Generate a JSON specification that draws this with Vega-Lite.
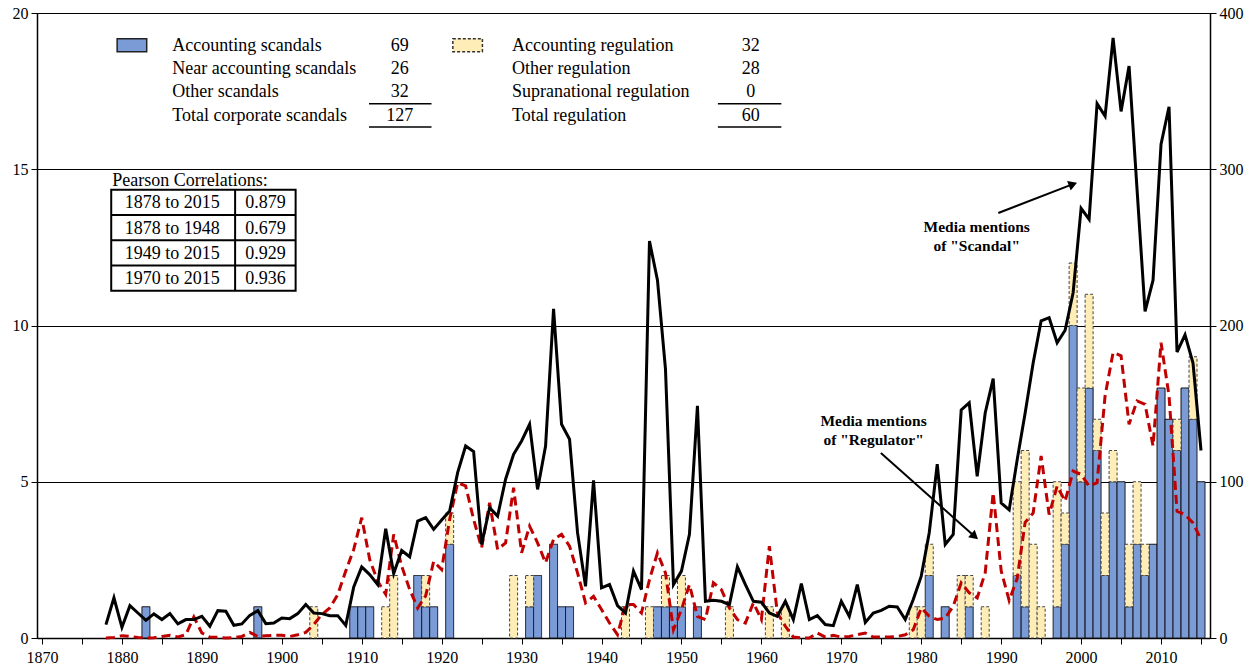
{
  "$schema": "https://vega.github.io/schema/vega-lite/v6.json",
  "width": 1173,
  "height": 625,
  "autosize": {"type": "none"},
  "padding": {"left": 37, "top": 13, "right": 49, "bottom": 33},
  "background": "white",
  "config": {
    "view": {"stroke": "black", "strokeWidth": 1},
    "axis": {"labelFont": "Liberation Serif", "labelFontSize": 16, "labelColor": "black", "domainColor": "black", "tickColor": "black", "domainWidth": 1.5, "tickWidth": 1}
  },
  "datasets": {
    "bars": [
      {"year":1883,"type":"Scandals","count":1},{"year":1897,"type":"Scandals","count":1},{"year":1909,"type":"Scandals","count":1},{"year":1910,"type":"Scandals","count":1},{"year":1911,"type":"Scandals","count":1},{"year":1917,"type":"Scandals","count":2},{"year":1918,"type":"Scandals","count":1},{"year":1919,"type":"Scandals","count":1},{"year":1921,"type":"Scandals","count":3},{"year":1931,"type":"Scandals","count":1},{"year":1932,"type":"Scandals","count":2},{"year":1934,"type":"Scandals","count":3},{"year":1935,"type":"Scandals","count":1},{"year":1936,"type":"Scandals","count":1},{"year":1947,"type":"Scandals","count":1},{"year":1948,"type":"Scandals","count":1},{"year":1949,"type":"Scandals","count":1},{"year":1950,"type":"Scandals","count":1},{"year":1952,"type":"Scandals","count":1},{"year":1981,"type":"Scandals","count":2},{"year":1983,"type":"Scandals","count":1},{"year":1986,"type":"Scandals","count":1},{"year":1992,"type":"Scandals","count":2},{"year":1993,"type":"Scandals","count":1},{"year":1997,"type":"Scandals","count":1},{"year":1998,"type":"Scandals","count":3},{"year":1999,"type":"Scandals","count":10},{"year":2000,"type":"Scandals","count":5},{"year":2001,"type":"Scandals","count":8},{"year":2002,"type":"Scandals","count":6},{"year":2003,"type":"Scandals","count":2},{"year":2004,"type":"Scandals","count":5},{"year":2005,"type":"Scandals","count":5},{"year":2006,"type":"Scandals","count":1},{"year":2007,"type":"Scandals","count":3},{"year":2008,"type":"Scandals","count":2},{"year":2009,"type":"Scandals","count":3},{"year":2010,"type":"Scandals","count":8},{"year":2011,"type":"Scandals","count":7},{"year":2012,"type":"Scandals","count":6},{"year":2013,"type":"Scandals","count":8},{"year":2014,"type":"Scandals","count":7},{"year":2015,"type":"Scandals","count":5},
      {"year":1904,"type":"Regulation","count":1},{"year":1913,"type":"Regulation","count":1},{"year":1914,"type":"Regulation","count":2},{"year":1918,"type":"Regulation","count":1},{"year":1921,"type":"Regulation","count":1},{"year":1929,"type":"Regulation","count":2},{"year":1931,"type":"Regulation","count":1},{"year":1943,"type":"Regulation","count":1},{"year":1946,"type":"Regulation","count":1},{"year":1948,"type":"Regulation","count":1},{"year":1950,"type":"Regulation","count":1},{"year":1956,"type":"Regulation","count":1},{"year":1961,"type":"Regulation","count":1},{"year":1963,"type":"Regulation","count":1},{"year":1979,"type":"Regulation","count":1},{"year":1980,"type":"Regulation","count":1},{"year":1981,"type":"Regulation","count":1},{"year":1985,"type":"Regulation","count":2},{"year":1986,"type":"Regulation","count":1},{"year":1988,"type":"Regulation","count":1},{"year":1992,"type":"Regulation","count":3},{"year":1993,"type":"Regulation","count":5},{"year":1994,"type":"Regulation","count":3},{"year":1995,"type":"Regulation","count":1},{"year":1997,"type":"Regulation","count":4},{"year":1998,"type":"Regulation","count":1},{"year":1999,"type":"Regulation","count":2},{"year":2000,"type":"Regulation","count":3},{"year":2001,"type":"Regulation","count":3},{"year":2002,"type":"Regulation","count":1},{"year":2003,"type":"Regulation","count":2},{"year":2004,"type":"Regulation","count":1},{"year":2006,"type":"Regulation","count":2},{"year":2007,"type":"Regulation","count":2},{"year":2008,"type":"Regulation","count":1},{"year":2012,"type":"Regulation","count":1},{"year":2014,"type":"Regulation","count":2}
    ],
    "scandal": [
      {"year":1878,"mentions":8.6},{"year":1879,"mentions":25.7},{"year":1880,"mentions":6.8},{"year":1881,"mentions":20.7},{"year":1882,"mentions":16},{"year":1883,"mentions":11.3},{"year":1884,"mentions":15.4},{"year":1885,"mentions":11.8},{"year":1886,"mentions":15.6},{"year":1887,"mentions":9},{"year":1888,"mentions":11.8},{"year":1889,"mentions":11.8},{"year":1890,"mentions":13.9},{"year":1891,"mentions":7.5},{"year":1892,"mentions":17.5},{"year":1893,"mentions":17.1},{"year":1894,"mentions":8.1},{"year":1895,"mentions":9},{"year":1896,"mentions":14.5},{"year":1897,"mentions":17.5},{"year":1898,"mentions":9.2},{"year":1899,"mentions":9.6},{"year":1900,"mentions":12.8},{"year":1901,"mentions":12.4},{"year":1902,"mentions":15.6},{"year":1903,"mentions":21.4},{"year":1904,"mentions":16},{"year":1905,"mentions":15.6},{"year":1906,"mentions":14.3},{"year":1907,"mentions":14.3},{"year":1908,"mentions":8.1},{"year":1909,"mentions":32.7},{"year":1910,"mentions":45.5},{"year":1911,"mentions":40.6},{"year":1912,"mentions":34.2},{"year":1913,"mentions":69.9},{"year":1914,"mentions":41.3},{"year":1915,"mentions":56},{"year":1916,"mentions":52},{"year":1917,"mentions":74.8},{"year":1918,"mentions":77},{"year":1919,"mentions":69.5},{"year":1920,"mentions":75.5},{"year":1921,"mentions":81.2},{"year":1922,"mentions":105.8},{"year":1923,"mentions":122.9},{"year":1924,"mentions":119.3},{"year":1925,"mentions":59.9},{"year":1926,"mentions":83.4},{"year":1927,"mentions":78},{"year":1928,"mentions":101.6},{"year":1929,"mentions":117.6},{"year":1930,"mentions":126.1},{"year":1931,"mentions":136.8},{"year":1932,"mentions":95.1},{"year":1933,"mentions":122.9},{"year":1934,"mentions":210.6},{"year":1935,"mentions":136.8},{"year":1936,"mentions":127.2},{"year":1937,"mentions":67.4},{"year":1938,"mentions":33.1},{"year":1939,"mentions":100.9},{"year":1940,"mentions":32.1},{"year":1941,"mentions":34.2},{"year":1942,"mentions":20.7},{"year":1943,"mentions":16},{"year":1944,"mentions":42.8},{"year":1945,"mentions":31},{"year":1946,"mentions":254},{"year":1947,"mentions":229},{"year":1948,"mentions":172.3},{"year":1949,"mentions":34.2},{"year":1950,"mentions":42.8},{"year":1951,"mentions":66.3},{"year":1952,"mentions":148.6},{"year":1953,"mentions":23.5},{"year":1954,"mentions":24.2},{"year":1955,"mentions":23.5},{"year":1956,"mentions":21.4},{"year":1957,"mentions":45.5},{"year":1958,"mentions":34.2},{"year":1959,"mentions":23.5},{"year":1960,"mentions":22.9},{"year":1961,"mentions":16},{"year":1962,"mentions":13.9},{"year":1963,"mentions":23.5},{"year":1964,"mentions":11.8},{"year":1965,"mentions":34.9},{"year":1966,"mentions":11.8},{"year":1967,"mentions":14.3},{"year":1968,"mentions":8.6},{"year":1969,"mentions":7.9},{"year":1970,"mentions":23.5},{"year":1971,"mentions":13.9},{"year":1972,"mentions":34.2},{"year":1973,"mentions":10},{"year":1974,"mentions":16},{"year":1975,"mentions":17.7},{"year":1976,"mentions":20.3},{"year":1977,"mentions":19.9},{"year":1978,"mentions":11.8},{"year":1979,"mentions":24.6},{"year":1980,"mentions":39.6},{"year":1981,"mentions":67.4},{"year":1982,"mentions":111.2},{"year":1983,"mentions":59.9},{"year":1984,"mentions":66.3},{"year":1985,"mentions":146},{"year":1986,"mentions":150.5},{"year":1987,"mentions":103.5},{"year":1988,"mentions":144},{"year":1989,"mentions":166},{"year":1990,"mentions":86.4},{"year":1991,"mentions":82},{"year":1992,"mentions":114},{"year":1993,"mentions":144},{"year":1994,"mentions":176},{"year":1995,"mentions":203},{"year":1996,"mentions":205},{"year":1997,"mentions":189},{"year":1998,"mentions":197},{"year":1999,"mentions":221},{"year":2000,"mentions":275},{"year":2001,"mentions":268},{"year":2002,"mentions":342},{"year":2003,"mentions":334},{"year":2004,"mentions":384},{"year":2005,"mentions":337},{"year":2006,"mentions":366},{"year":2007,"mentions":287},{"year":2008,"mentions":209},{"year":2009,"mentions":229},{"year":2010,"mentions":316},{"year":2011,"mentions":340},{"year":2012,"mentions":183},{"year":2013,"mentions":194},{"year":2014,"mentions":176},{"year":2015,"mentions":120}
    ],
    "regulator": [
      {"year":1878,"mentions":0},{"year":1879,"mentions":0.4},{"year":1880,"mentions":1.5},{"year":1881,"mentions":1},{"year":1882,"mentions":0.4},{"year":1883,"mentions":0},{"year":1884,"mentions":0.2},{"year":1885,"mentions":1},{"year":1886,"mentions":1.7},{"year":1887,"mentions":0.6},{"year":1888,"mentions":2.1},{"year":1889,"mentions":13.5},{"year":1890,"mentions":3.2},{"year":1891,"mentions":0.6},{"year":1892,"mentions":0.4},{"year":1893,"mentions":0},{"year":1894,"mentions":0.2},{"year":1895,"mentions":1},{"year":1896,"mentions":3.6},{"year":1897,"mentions":1},{"year":1898,"mentions":1.5},{"year":1899,"mentions":1.7},{"year":1900,"mentions":1.7},{"year":1901,"mentions":1},{"year":1902,"mentions":2.1},{"year":1903,"mentions":3.6},{"year":1904,"mentions":8.6},{"year":1905,"mentions":15},{"year":1906,"mentions":19.2},{"year":1907,"mentions":27.8},{"year":1908,"mentions":42.8},{"year":1909,"mentions":56.7},{"year":1910,"mentions":77},{"year":1911,"mentions":50.2},{"year":1912,"mentions":36.3},{"year":1913,"mentions":28},{"year":1914,"mentions":66.3},{"year":1915,"mentions":46},{"year":1916,"mentions":31},{"year":1917,"mentions":19.2},{"year":1918,"mentions":27},{"year":1919,"mentions":49},{"year":1920,"mentions":43.8},{"year":1921,"mentions":75.9},{"year":1922,"mentions":99.4},{"year":1923,"mentions":97.3},{"year":1924,"mentions":75.9},{"year":1925,"mentions":57.7},{"year":1926,"mentions":86.6},{"year":1927,"mentions":56.7},{"year":1928,"mentions":60.9},{"year":1929,"mentions":96.2},{"year":1930,"mentions":54.5},{"year":1931,"mentions":71.6},{"year":1932,"mentions":60.9},{"year":1933,"mentions":48.1},{"year":1934,"mentions":63.1},{"year":1935,"mentions":66.3},{"year":1936,"mentions":58.8},{"year":1937,"mentions":41.7},{"year":1938,"mentions":22.5},{"year":1939,"mentions":26.7},{"year":1940,"mentions":18.2},{"year":1941,"mentions":9.6},{"year":1942,"mentions":2.1},{"year":1943,"mentions":21.4},{"year":1944,"mentions":21.4},{"year":1945,"mentions":16},{"year":1946,"mentions":37.4},{"year":1947,"mentions":54.5},{"year":1948,"mentions":41.7},{"year":1949,"mentions":5.3},{"year":1950,"mentions":18.2},{"year":1951,"mentions":34.2},{"year":1952,"mentions":13.9},{"year":1953,"mentions":11.8},{"year":1954,"mentions":35.3},{"year":1955,"mentions":31},{"year":1956,"mentions":19.2},{"year":1957,"mentions":11.8},{"year":1958,"mentions":9.6},{"year":1959,"mentions":22.5},{"year":1960,"mentions":11.8},{"year":1961,"mentions":58.8},{"year":1962,"mentions":16},{"year":1963,"mentions":7.5},{"year":1964,"mentions":0.6},{"year":1965,"mentions":0},{"year":1966,"mentions":0},{"year":1967,"mentions":3.2},{"year":1968,"mentions":0.6},{"year":1969,"mentions":1.7},{"year":1970,"mentions":0.6},{"year":1971,"mentions":1},{"year":1972,"mentions":2.1},{"year":1973,"mentions":3.2},{"year":1974,"mentions":0.6},{"year":1975,"mentions":0.6},{"year":1976,"mentions":0.6},{"year":1977,"mentions":1},{"year":1978,"mentions":2.1},{"year":1979,"mentions":5.3},{"year":1980,"mentions":19.2},{"year":1981,"mentions":13.9},{"year":1982,"mentions":11.8},{"year":1983,"mentions":12.8},{"year":1984,"mentions":20.3},{"year":1985,"mentions":35.3},{"year":1986,"mentions":28.9},{"year":1987,"mentions":25.7},{"year":1988,"mentions":41.7},{"year":1989,"mentions":93},{"year":1990,"mentions":43},{"year":1991,"mentions":24},{"year":1992,"mentions":38},{"year":1993,"mentions":74},{"year":1994,"mentions":80},{"year":1995,"mentions":116.5},{"year":1996,"mentions":79},{"year":1997,"mentions":97.2},{"year":1998,"mentions":87.6},{"year":1999,"mentions":106.8},{"year":2000,"mentions":104.7},{"year":2001,"mentions":97.2},{"year":2002,"mentions":99.4},{"year":2003,"mentions":155},{"year":2004,"mentions":182.7},{"year":2005,"mentions":180.6},{"year":2006,"mentions":136.8},{"year":2007,"mentions":151.7},{"year":2008,"mentions":149.6},{"year":2009,"mentions":122.9},{"year":2010,"mentions":189},{"year":2011,"mentions":155},{"year":2012,"mentions":81.2},{"year":2013,"mentions":79},{"year":2014,"mentions":73.7},{"year":2015,"mentions":63}
    ]
  },
  "layer": [
    {
      "layer": [
        {
          "data": {"name": "bars"},
          "mark": {"type": "bar", "width": 8, "strokeWidth": 1},
          "encoding": {
            "x": {"field": "year", "type": "quantitative", "scale": {"domain": [1870, 2015.5], "nice": false, "zero": false},
                  "axis": {"values": [1870,1875,1880,1885,1890,1895,1900,1905,1910,1915,1920,1925,1930,1935,1940,1945,1950,1955,1960,1965,1970,1975,1980,1985,1990,1995,2000,2005,2010,2015], "format": "d", "labelExpr": "datum.value % 10 === 0 ? datum.label : ''", "tickSize": 6, "labelPadding": 5, "title": null, "grid": false, "labelOverlap": false, "labelFlush": false, "orient": "bottom"}},
            "y": {"field": "count", "type": "quantitative", "stack": "zero", "scale": {"domain": [0, 20], "nice": false},
                  "axis": {"orient": "left", "values": [0,5,10,15,20], "format": "d", "grid": true, "gridColor": "black", "gridWidth": 1, "gridOpacity": 1, "tickSize": 6, "labelPadding": 3, "title": null}},
            "color": {"field": "type", "type": "nominal", "scale": {"domain": ["Scandals", "Regulation"], "range": ["#7B9BD6", "#FFEDB8"]}, "legend": null},
            "stroke": {"field": "type", "type": "nominal", "scale": {"domain": ["Scandals", "Regulation"], "range": ["#111111", "#444444"]}, "legend": null},
            "strokeDash": {"field": "type", "type": "nominal", "scale": {"domain": ["Scandals", "Regulation"], "range": [[1, 0], [3, 2]]}, "legend": null},
            "order": {"field": "type", "sort": "descending"}
          }
        },
        {
          "data": {"values": [{}]},
          "mark": {"type": "rect", "fill": "#7B9BD6", "stroke": "#222222", "strokeWidth": 1.5},
          "encoding": {
            "x": {"datum": 1879.4, "type": "quantitative"}, "x2": {"datum": 1883.1},
            "y": {"datum": 19.18, "type": "quantitative"}, "y2": {"datum": 18.76}
          }
        },
        {
          "data": {"values": [{}]},
          "mark": {"type": "rect", "fill": "#FFEDB8", "stroke": "#333333", "strokeWidth": 1.5, "strokeDash": [3, 2]},
          "encoding": {
            "x": {"datum": 1921.4, "type": "quantitative"}, "x2": {"datum": 1925.1},
            "y": {"datum": 19.18, "type": "quantitative"}, "y2": {"datum": 18.76}
          }
        },
        {
          "data": {"values": [{"t": "Accounting scandals\nNear accounting scandals\nOther scandals\nTotal corporate scandals"}]},
          "mark": {"type": "text", "align": "left", "baseline": "top", "lineBreak": "\n", "lineHeight": 23.3, "font": "Liberation Serif", "fontSize": 18, "color": "black"},
          "encoding": {"x": {"datum": 1886.3, "type": "quantitative"}, "y": {"datum": 19.24, "type": "quantitative"}, "text": {"field": "t"}}
        },
        {
          "data": {"values": [{"t": "69\n26\n32\n127"}]},
          "mark": {"type": "text", "align": "center", "baseline": "top", "lineBreak": "\n", "lineHeight": 23.3, "font": "Liberation Serif", "fontSize": 18, "color": "black"},
          "encoding": {"x": {"datum": 1914.75, "type": "quantitative"}, "y": {"datum": 19.24, "type": "quantitative"}, "text": {"field": "t"}}
        },
        {
          "data": {"values": [{"t": "Accounting regulation\nOther regulation\nSupranational regulation\nTotal regulation"}]},
          "mark": {"type": "text", "align": "left", "baseline": "top", "lineBreak": "\n", "lineHeight": 23.3, "font": "Liberation Serif", "fontSize": 18, "color": "black"},
          "encoding": {"x": {"datum": 1928.8, "type": "quantitative"}, "y": {"datum": 19.24, "type": "quantitative"}, "text": {"field": "t"}}
        },
        {
          "data": {"values": [{"t": "32\n28\n0\n60"}]},
          "mark": {"type": "text", "align": "center", "baseline": "top", "lineBreak": "\n", "lineHeight": 23.3, "font": "Liberation Serif", "fontSize": 18, "color": "black"},
          "encoding": {"x": {"datum": 1958.66, "type": "quantitative"}, "y": {"datum": 19.24, "type": "quantitative"}, "text": {"field": "t"}}
        },
        {
          "data": {"values": [{}]},
          "mark": {"type": "rule", "color": "black", "strokeWidth": 1.5},
          "encoding": {"x": {"datum": 1910.91, "type": "quantitative"}, "x2": {"datum": 1918.73}, "y": {"datum": 17.1, "type": "quantitative"}}
        },
        {
          "data": {"values": [{}]},
          "mark": {"type": "rule", "color": "black", "strokeWidth": 1.5},
          "encoding": {"x": {"datum": 1910.91, "type": "quantitative"}, "x2": {"datum": 1918.73}, "y": {"datum": 16.35, "type": "quantitative"}}
        },
        {
          "data": {"values": [{}]},
          "mark": {"type": "rule", "color": "black", "strokeWidth": 1.5},
          "encoding": {"x": {"datum": 1954.56, "type": "quantitative"}, "x2": {"datum": 1962.5}, "y": {"datum": 17.1, "type": "quantitative"}}
        },
        {
          "data": {"values": [{}]},
          "mark": {"type": "rule", "color": "black", "strokeWidth": 1.5},
          "encoding": {"x": {"datum": 1954.56, "type": "quantitative"}, "x2": {"datum": 1962.5}, "y": {"datum": 16.35, "type": "quantitative"}}
        },
        {
          "data": {"values": [{"t": "Pearson Correlations:"}]},
          "mark": {"type": "text", "align": "left", "baseline": "middle", "font": "Liberation Serif", "fontSize": 18, "color": "black"},
          "encoding": {"x": {"datum": 1878.8, "type": "quantitative"}, "y": {"datum": 14.63, "type": "quantitative"}, "text": {"field": "t"}}
        },
        {
          "data": {"values": [{}]},
          "mark": {"type": "rect", "fillOpacity": 0, "stroke": "black", "strokeWidth": 2},
          "encoding": {
            "x": {"datum": 1878.66, "type": "quantitative"}, "x2": {"datum": 1901.73},
            "y": {"datum": 14.346, "type": "quantitative"}, "y2": {"datum": 11.114}
          }
        },
        {
          "data": {"values": [{}]},
          "mark": {"type": "rule", "color": "black", "strokeWidth": 2},
          "encoding": {"x": {"datum": 1878.66, "type": "quantitative"}, "x2": {"datum": 1901.73}, "y": {"datum": 13.538, "type": "quantitative"}}
        },
        {
          "data": {"values": [{}]},
          "mark": {"type": "rule", "color": "black", "strokeWidth": 2},
          "encoding": {"x": {"datum": 1878.66, "type": "quantitative"}, "x2": {"datum": 1901.73}, "y": {"datum": 12.73, "type": "quantitative"}}
        },
        {
          "data": {"values": [{}]},
          "mark": {"type": "rule", "color": "black", "strokeWidth": 2},
          "encoding": {"x": {"datum": 1878.66, "type": "quantitative"}, "x2": {"datum": 1901.73}, "y": {"datum": 11.922, "type": "quantitative"}}
        },
        {
          "data": {"values": [{}]},
          "mark": {"type": "rule", "color": "black", "strokeWidth": 2},
          "encoding": {"x": {"datum": 1894.16, "type": "quantitative"}, "y": {"datum": 14.346, "type": "quantitative"}, "y2": {"datum": 11.114}}
        },
        {
          "data": {"values": [{"t": "1878 to 2015\n1878 to 1948\n1949 to 2015\n1970 to 2015"}]},
          "mark": {"type": "text", "align": "center", "baseline": "top", "lineBreak": "\n", "lineHeight": 25.25, "font": "Liberation Serif", "fontSize": 18, "color": "black"},
          "encoding": {"x": {"datum": 1886.3, "type": "quantitative"}, "y": {"datum": 14.2, "type": "quantitative"}, "text": {"field": "t"}}
        },
        {
          "data": {"values": [{"t": "0.879\n0.679\n0.929\n0.936"}]},
          "mark": {"type": "text", "align": "center", "baseline": "top", "lineBreak": "\n", "lineHeight": 25.25, "font": "Liberation Serif", "fontSize": 18, "color": "black"},
          "encoding": {"x": {"datum": 1897.95, "type": "quantitative"}, "y": {"datum": 14.2, "type": "quantitative"}, "text": {"field": "t"}}
        },
        {
          "data": {"values": [{"t": "Media mentions\nof \"Scandal\""}]},
          "mark": {"type": "text", "align": "center", "baseline": "top", "lineBreak": "\n", "lineHeight": 19, "font": "Liberation Serif", "fontSize": 15.5, "fontWeight": "bold", "color": "black"},
          "encoding": {"x": {"datum": 1986.94, "type": "quantitative"}, "y": {"datum": 13.385, "type": "quantitative"}, "text": {"field": "t"}}
        },
        {
          "data": {"values": [{"t": "Media mentions\nof \"Regulator\""}]},
          "mark": {"type": "text", "align": "center", "baseline": "top", "lineBreak": "\n", "lineHeight": 19, "font": "Liberation Serif", "fontSize": 15.5, "fontWeight": "bold", "color": "black"},
          "encoding": {"x": {"datum": 1974.04, "type": "quantitative"}, "y": {"datum": 7.178, "type": "quantitative"}, "text": {"field": "t"}}
        },
        {
          "data": {"values": [{}]},
          "mark": {"type": "rule", "color": "black", "strokeWidth": 2},
          "encoding": {"x": {"datum": 1989.64, "type": "quantitative"}, "x2": {"datum": 1998.98}, "y": {"datum": 13.6, "type": "quantitative"}, "y2": {"datum": 14.522}}
        },
        {
          "data": {"values": [{}]},
          "mark": {"type": "point", "shape": "triangle-right", "angle": 339.07, "size": 100, "filled": true, "color": "black", "opacity": 1},
          "encoding": {"x": {"datum": 1998.98, "type": "quantitative"}, "y": {"datum": 14.522, "type": "quantitative"}}
        },
        {
          "data": {"values": [{}]},
          "mark": {"type": "rule", "color": "black", "strokeWidth": 2},
          "encoding": {"x": {"datum": 1974.95, "type": "quantitative"}, "x2": {"datum": 1986.69}, "y": {"datum": 5.92, "type": "quantitative"}, "y2": {"datum": 3.251}}
        },
        {
          "data": {"values": [{}]},
          "mark": {"type": "point", "shape": "triangle-right", "angle": 41.38, "size": 100, "filled": true, "color": "black", "opacity": 1},
          "encoding": {"x": {"datum": 1986.69, "type": "quantitative"}, "y": {"datum": 3.251, "type": "quantitative"}}
        }
      ]
    },
    {
      "layer": [
        {
          "data": {"name": "regulator"},
          "mark": {"type": "line", "color": "#C00000", "strokeWidth": 3, "strokeDash": [9, 5]},
          "encoding": {
            "x": {"field": "year", "type": "quantitative", "scale": {"domain": [1870, 2015.5], "nice": false, "zero": false}},
            "y": {"field": "mentions", "type": "quantitative", "scale": {"domain": [0, 400], "nice": false}}
          }
        },
        {
          "data": {"name": "scandal"},
          "mark": {"type": "line", "color": "black", "strokeWidth": 3},
          "encoding": {
            "x": {"field": "year", "type": "quantitative", "scale": {"domain": [1870, 2015.5], "nice": false, "zero": false}},
            "y": {"field": "mentions", "type": "quantitative", "scale": {"domain": [0, 400], "nice": false},
                  "axis": {"orient": "right", "values": [0,100,200,300,400], "format": "d", "grid": false, "tickSize": 6, "labelPadding": 3, "title": null}}
          }
        }
      ]
    }
  ],
  "resolve": {"scale": {"y": "independent"}}
}
